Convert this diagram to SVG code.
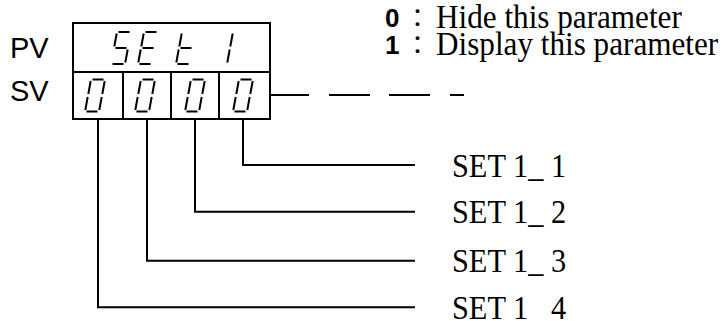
<svg xmlns="http://www.w3.org/2000/svg" width="723" height="321" viewBox="0 0 723 321">
<style>
.box{fill:#fff;stroke:#000;stroke-width:2}
.seg{fill:none;stroke:#000;stroke-width:2;stroke-linecap:butt}
.wire{fill:none;stroke:#000;stroke-width:2}
.lbl{font-family:"Liberation Sans",Arial,sans-serif;font-size:29px;fill:#000}
.ser{font-family:"Liberation Serif","Times New Roman",serif;font-size:33px;fill:#000}
.num{font-family:"Liberation Sans",Arial,sans-serif;font-weight:bold;font-size:26px}
.col{font-family:"Noto Sans CJK TC","Noto Sans CJK SC",sans-serif;font-size:25px}
</style>
<defs>
<path id="g0" class="seg" d="M7.5 -32H18.5M19.7 -30.5L17.3 -17.5M16.7 -14.5L14.3 -1.5M1.5 0H12.5M2.7 -14.5L0.3 -1.5M5.7 -30.5L3.3 -17.5"/>
<path id="gS" class="seg" d="M7.5 -32H18.5M5.7 -30.5L3.3 -17.5M4.5 -16H15.5M16.7 -14.5L14.3 -1.5M1.5 0H12.5"/>
<path id="gE" class="seg" d="M7.5 -32H18.5M5.7 -30.5L3.3 -17.5M4.5 -16H15.5M2.7 -14.5L0.3 -1.5M1.5 0H12.5"/>
<path id="gt" class="seg" d="M5.7 -30.5L3.3 -17.5M2.7 -14.5L0.3 -1.5M4.5 -16H15.5M1.5 0H12.5"/>
<path id="g1" class="seg" d="M19.7 -30.5L17.3 -17.5M16.7 -14.5L14.3 -1.5"/>
</defs>

<g id="pv-label"><text class="lbl" x="10" y="58">PV</text></g>
<g id="sv-label"><text class="lbl" x="10" y="101">SV</text></g>

<g id="pv-display">
<rect class="box" x="73" y="23" width="197" height="49"/>
<use href="#gS" x="111" y="64"/>
<use href="#gE" x="138" y="64"/>
<use href="#gt" x="176" y="64"/>
<use href="#g1" x="213" y="64"/>
</g>

<g id="sv-digit-4">
<rect class="box" x="73" y="72" width="50" height="47"/>
<use href="#g0" x="85" y="111.5"/>
</g>
<g id="sv-digit-3">
<rect class="box" x="123" y="72" width="48" height="47"/>
<use href="#g0" x="135" y="111.5"/>
</g>
<g id="sv-digit-2">
<rect class="box" x="171" y="72" width="48" height="47"/>
<use href="#g0" x="185" y="111.5"/>
</g>
<g id="sv-digit-1">
<rect class="box" x="219" y="72" width="51" height="47"/>
<use href="#g0" x="233" y="111.5"/>
</g>

<g id="connectors">
<path class="wire" d="M270 95H309M329 95H370M389 95H430M450 95H464"/>
<path class="wire" d="M243 119V165H415"/>
<path class="wire" d="M195 119V211.7H415"/>
<path class="wire" d="M147 119V260.7H415"/>
<path class="wire" d="M98 119V307.3H415"/>
</g>

<g id="legend-0">
<text class="num" x="385" y="27">0</text>
<text class="col" x="405" y="27">：</text>
<text class="ser" transform="translate(436,28) scale(0.945,1)">Hide this parameter</text>
</g>
<g id="legend-1">
<text class="num" x="385" y="54">1</text>
<text class="col" x="405" y="54">：</text>
<text class="ser" transform="translate(436,55) scale(0.945,1)">Display this parameter</text>
</g>

<g id="set1-1"><text class="ser" transform="translate(452,176.5) scale(0.92,1)">SET 1_ 1</text></g>
<g id="set1-2"><text class="ser" transform="translate(452,223) scale(0.92,1)">SET 1_ 2</text></g>
<g id="set1-3"><text class="ser" transform="translate(452,272) scale(0.92,1)">SET 1_ 3</text></g>
<g id="set1-4"><text class="ser" transform="translate(452,318.5) scale(0.92,1)">SET 1_ 4</text></g>
</svg>
